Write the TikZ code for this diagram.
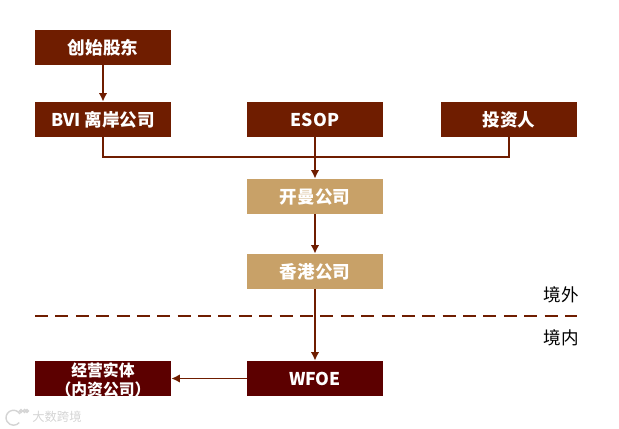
\documentclass[tikz,border=0pt]{standalone}
\usepackage{fontspec}
\usetikzlibrary{arrows.meta}
\setmainfont{Noto Sans CJK SC}
\definecolor{brownN}{HTML}{6F1D00}
\definecolor{darkN}{HTML}{5C0000}
\definecolor{tanN}{HTML}{C8A168}
\definecolor{markG}{HTML}{D4D4D4}
\begin{document}
\begin{tikzpicture}
  [boxN/.style={rectangle,minimum width=2.72cm,minimum height=0.7cm,inner sep=0pt,
     text=white,font=\fontsize{10}{11.5}\selectfont\bfseries,align=center},
   brownB/.style={boxN,fill=brownN},
   tanB/.style={boxN,fill=tanN},
   darkB/.style={boxN,fill=darkN},
   lineN/.style={draw=brownN,line width=1.1pt},
   arrowN/.style={lineN,-{Latex[length=1.7mm,width=1.7mm]}},
   sideN/.style={inner sep=0pt,font=\fontsize{10}{12}\selectfont},
   markN/.style={draw=markG,line width=0.8pt}]

  \useasboundingbox (0,0) rectangle (12.38,8.58);

  \node[brownB] (founder) at (2.06,7.63) {创始股东};
  \node[brownB] (bvi)     at (2.06,6.19) {BVI 离岸公司};
  \node[brownB] (esop)    at (6.30,6.19) {ESOP};
  \node[brownB] (investor) at (10.18,6.19) {投资人};
  \node[tanB]   (cayman)  at (6.30,4.65) {开曼公司};
  \node[tanB]   (hk)      at (6.30,3.15) {香港公司};
  \node[darkB]  (wfoe)    at (6.30,1.01) {WFOE};
  \node[darkB,font=\fontsize{9}{9.8}\selectfont\bfseries] (entity) at (2.06,1.01)
    {\raisebox{-3.9pt}[8pt][8pt]{\begin{tabular}{@{}c@{}}经营实体\\（内资公司）\end{tabular}}};

  \coordinate (joint) at (6.30,5.44);
  \coordinate (dashL) at (0.70,2.26);
  \coordinate (dashR) at (11.54,2.26);

  \node[sideN] (out) at (11.22,2.68) {境外};
  \node[sideN] (in)  at (11.22,1.82) {境内};

  % watermark
  \node[inner sep=0pt,text=markG,font=\fontsize{7}{8}\selectfont] (mark) at (1.14,0.24) {大数跨境};
  \draw [markN] (0.40,0.30) arc (30:320:0.15);
  \draw [markN] (0.42,0.36) circle (0.03);
  \draw [markN] (0.49,0.36) circle (0.03);
  \draw [markN] (0.54,0.36) circle (0.03);

  \draw [arrowN] (founder) -- (bvi);
  \draw [lineN]  (bvi) |- (joint);
  \draw [lineN]  (investor) |- (joint);
  \draw [arrowN] (esop) -- (cayman);
  \draw [arrowN] (cayman) -- (hk);
  \draw [arrowN] (hk) -- (wfoe);
  \draw [arrowN] (wfoe) -- (entity);

  \draw [brownN,line width=1pt,dash pattern=on 7.4pt off 4.2pt] (dashL) -- (dashR);

\end{tikzpicture}
\end{document}
